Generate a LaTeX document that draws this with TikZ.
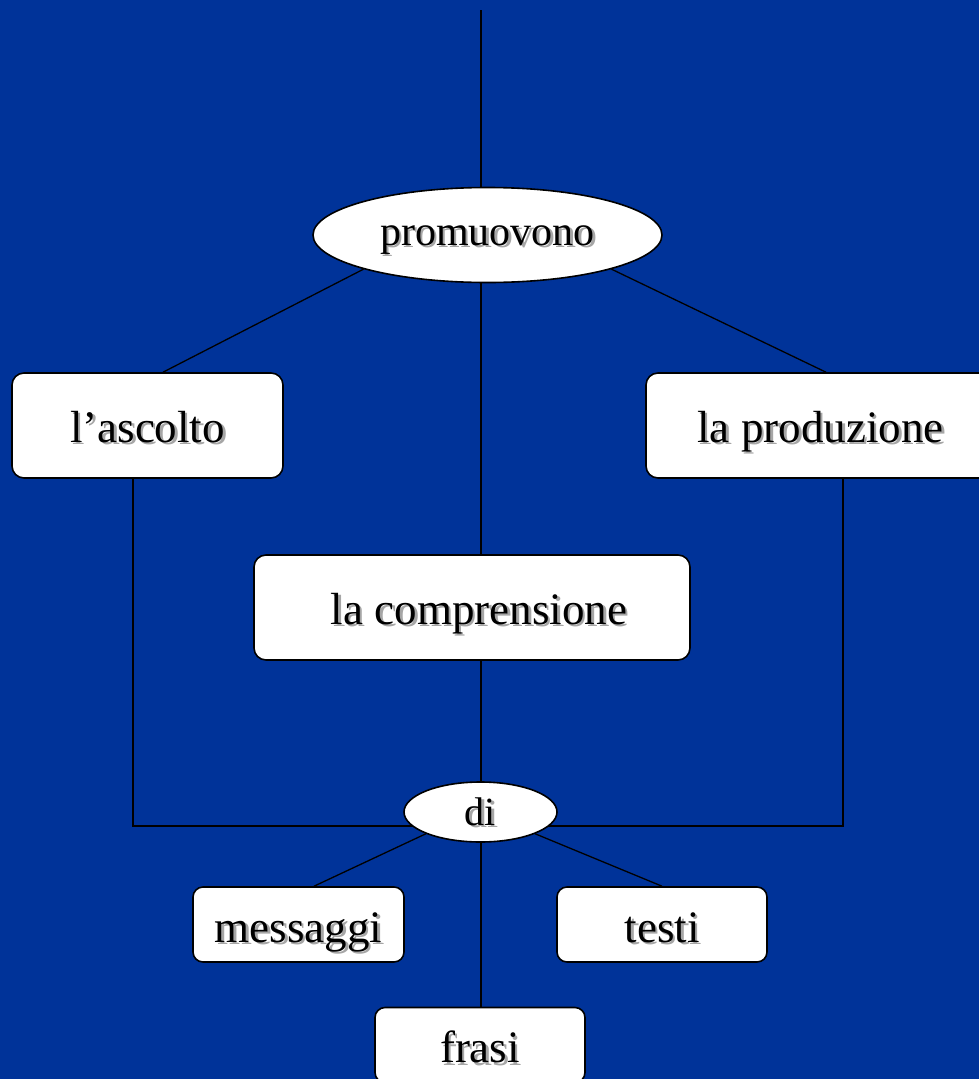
\documentclass[tikz,border=0pt]{standalone}
\usepackage{fontspec}
\setmainfont{Liberation Serif}
\usetikzlibrary{shapes.geometric,calc}
\definecolor{bgblue}{RGB}{0,51,153}
\newcommand\shtext[1]{\makebox[0pt][l]{\kern2.5pt\raisebox{-2.5pt}{\textcolor{black!35}{#1}}}#1}
\pgfdeclarelayer{bg}
\pgfdeclarelayer{lines}
\pgfsetlayers{bg,lines,main}
\begin{document}
\begin{tikzpicture}[x=1pt,y=-1pt,
  box/.style={draw=black, line width=1.6pt, fill=white, rounded corners=12pt, inner sep=0pt,
    text height=33pt, text depth=0pt, font=\fontsize{45}{50}\selectfont},
  sbox/.style={box, rounded corners=10pt, text height=35pt},
  oval/.style={ellipse, draw=black, line width=1.6pt, fill=white, inner sep=0pt},
  conn/.style={draw=black, line width=1.3pt}]
\begin{pgfonlayer}{bg}
\fill[bgblue] (0,0) rectangle (979,1079);
\end{pgfonlayer}
\useasboundingbox (0,0) rectangle (979,1079);
\coordinate (top) at (481,10);
\node[oval, minimum width=349pt, minimum height=95pt, text height=20pt, text depth=0pt,
  font=\fontsize{42}{46}\selectfont] (prom) at (487.5,235) {\shtext{promuovono}};
\node[box, minimum width=271pt, minimum height=105pt] (asc) at (147.5,425.5) {\shtext{l’ascolto}};
\node[box, minimum width=349pt, minimum height=105pt] (prod) at (820.5,425.5) {\shtext{la produzione}};
\node[box, minimum width=436pt, minimum height=105pt] (comp) at (472,607.5) {\hspace{14pt}\shtext{la comprensione}};
\node[oval, minimum width=153pt, minimum height=60pt, text height=26pt, text depth=0pt,
  font=\fontsize{40}{44}\selectfont] (di) at (480.5,812) {\shtext{di}};
\node[sbox, minimum width=211pt, minimum height=75pt] (mess) at (298.5,924.5) {\shtext{messaggi}};
\node[sbox, minimum width=210pt, minimum height=75pt] (testi) at (662,924.5) {\shtext{testi}};
\node[sbox, minimum width=210pt, minimum height=75pt] (frasi) at (480,1045) {\shtext{frasi}};
\begin{pgfonlayer}{lines}
\draw[conn] (top) -- (top |- prom.north);
\draw[conn] (prom.south west) -- ($(asc.north)+(15.5,0)$);
\draw[conn] (prom.south east) -- ($(prod.north)+(5.5,0)$);
\draw[conn] (prom.south -| top) -- (comp.north -| top);
\draw[conn] (comp.south -| top) -- (di.north -| top);
\draw[conn] ($(asc.south)+(-14.5,0)$) |- ($(di.center)+(0,14)$);
\draw[conn] ($(prod.south)+(22.5,0)$) |- ($(di.center)+(0,14)$);
\draw[conn] (di.south west) -- ($(mess.north)+(15.5,0)$);
\draw[conn] (di.south east) -- (testi.north);
\draw[conn] (di.south -| top) -- (frasi.north -| top);
\end{pgfonlayer}
\end{tikzpicture}
\end{document}
